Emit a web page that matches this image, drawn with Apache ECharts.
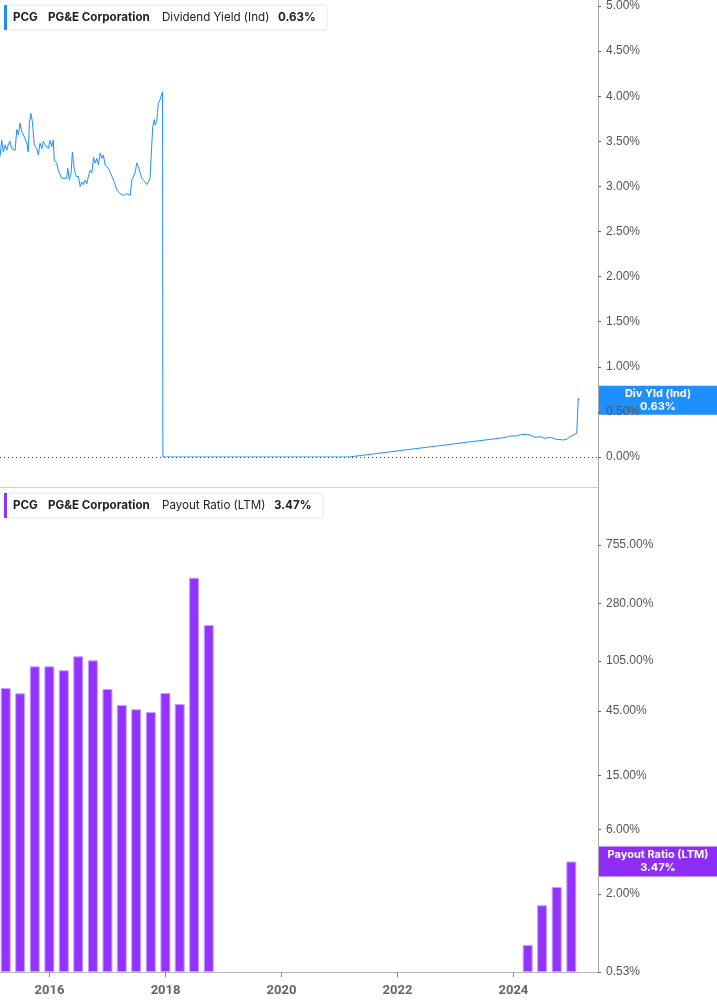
<!DOCTYPE html>
<html><head><meta charset="utf-8">
<script src="https://cdn.jsdelivr.net/npm/echarts@6/dist/echarts.min.js"></script>
<style>html,body{margin:0;padding:0;background:#fff}#c{width:717px;height:1005px}</style>
</head><body><div id="c"></div>
<script>
// ---- Dividend Yield (Ind), % ----
const yieldDates = [
'2015-02-23','2015-03-06','2015-03-16','2015-03-27','2015-04-07','2015-04-17','2015-04-27','2015-05-07','2015-05-19','2015-05-29',
'2015-06-09','2015-06-19','2015-06-29','2015-07-10','2015-07-20','2015-07-31','2015-08-11','2015-08-20','2015-08-27','2015-09-05',
'2015-09-15','2015-09-27','2015-10-12','2015-10-23','2015-11-02','2015-11-13','2015-11-23','2015-12-04','2015-12-15','2015-12-25',
'2016-01-04','2016-01-15','2016-01-25','2016-01-31','2016-02-15','2016-02-25','2016-03-07','2016-03-17','2016-03-28','2016-04-18',
'2016-04-25','2016-05-05','2016-05-16','2016-05-24','2016-06-04','2016-06-17','2016-07-01','2016-07-12','2016-07-23','2016-08-02',
'2016-08-12','2016-08-23','2016-09-02','2016-09-13','2016-09-24','2016-10-04','2016-10-15','2016-10-25','2016-11-04','2016-11-15',
'2016-11-26','2016-12-05','2016-12-16','2016-12-27','2017-01-06','2017-01-17','2017-01-28','2017-02-07','2017-02-17','2017-02-28',
'2017-03-10','2017-03-21','2017-04-01','2017-04-11','2017-04-21','2017-05-02','2017-05-12','2017-05-23','2017-06-02','2017-06-13',
'2017-06-23','2017-07-04','2017-07-14','2017-07-25','2017-08-04','2017-08-14','2017-08-25','2017-09-05','2017-09-15','2017-09-25',
'2017-10-06','2017-10-12','2017-10-22','2017-10-27','2017-11-06','2017-11-10','2017-11-16','2017-11-22','2017-11-27','2017-12-07',
'2017-12-13','2017-12-15','2018-06-29','2019-06-28','2020-06-30','2021-03-01',
'2023-11-18','2023-12-09','2024-01-21','2024-02-22','2024-04-15','2024-05-16','2024-06-17','2024-07-18','2024-08-19','2024-09-30',
'2024-11-10','2024-12-02','2024-12-22','2025-01-12','2025-02-03','2025-02-13','2025-02-19'
];
const yieldValues = [
3.33,3.51,3.38,3.46,3.40,3.47,3.50,3.42,3.44,3.40,
3.63,3.57,3.70,3.61,3.59,3.53,3.48,3.38,3.70,3.81,
3.72,3.46,3.42,3.35,3.48,3.42,3.50,3.46,3.48,3.42,
3.51,3.44,3.51,3.29,3.26,3.18,3.20,3.09,3.07,3.09,
3.20,3.07,3.15,3.38,3.20,3.11,3.11,3.00,3.05,3.02,
3.07,3.03,3.11,3.18,3.15,3.32,3.26,3.31,3.24,3.37,
3.31,3.35,3.24,3.22,3.20,3.18,3.11,3.07,3.02,2.96,
2.98,2.92,2.92,2.90,2.90,2.92,2.94,2.90,3.07,3.09,
3.15,3.26,3.22,3.15,3.09,3.07,3.05,3.02,3.05,3.09,
3.07,3.66,3.74,3.68,3.72,3.79,3.92,3.90,3.96,3.98,
4.05,0,0,0,0,0,
0.218,0.233,0.233,0.251,0.245,0.218,0.225,0.207,0.218,0.196,
0.189,0.196,0.225,0.244,0.262,0.65,0.63
];
// ---- Payout Ratio (LTM), % ----
const payoutDates = [
'2015-03-31','2015-06-30','2015-09-30','2015-12-31','2016-03-31','2016-06-30','2016-09-30','2016-12-31',
'2017-03-31','2017-06-30','2017-09-30','2017-12-31','2018-03-31','2018-06-30','2018-09-30',
'2024-03-31','2024-06-30','2024-09-30','2024-12-31'
];
const payoutValues = [
66.3,60.6,95.9,95.9,89.7,113.7,106.2,65.3,
49.7,46.2,44.1,60.9,50.5,432.9,193.6,
0.84,1.65,2.25,3.47
];
const payoutTicks = [0.53, 2, 6, 15, 45, 105, 280, 755];
const yearTicks = ['2016-01-01','2018-01-01','2020-01-01','2022-01-01','2024-01-01'];
const lastYield = 0.63, lastPayout = 3.47;

const BLUE = '#1e8fff', PURPLE = '#9333ff';
const chart = echarts.init(document.getElementById('c'), null, {renderer:'canvas'});

// visible date range of both panels
const tMin = echarts.number.parseDate('2015-02-23').getTime();
const tMax = echarts.number.parseDate('2025-06-17').getTime();
// ECharts widens a time axis carrying bars by the bar width; pre-shrink so the final range matches the line panel
const plotW = 598, barW = 10;
const shrink = (tMax - tMin) * (barW / plotW) / 2;

const yLabel = {color:'#555', fontSize:12, fontFamily:'Liberation Sans, Arial, sans-serif', margin:8,
  formatter: v => Number(v).toFixed(2) + '%'};

chart.setOption({
  animation:false,
  grid:[
    {left:0, right:119, top:6, height:451},
    {left:0, right:119, top:545, height:427}
  ],
  xAxis:[
    {type:'time', gridIndex:0, min:tMin, max:tMax, show:false},
    {type:'time', gridIndex:1, min:tMin + shrink, max:tMax - shrink,
     axisLine:{show:true, lineStyle:{color:'#b5b5b5', width:1}},
     axisTick:{show:true, length:5, lineStyle:{color:'#888'}, customValues: yearTicks},
     splitLine:{show:false},
     axisLabel:{customValues: yearTicks, formatter:'{yyyy}', color:'#666', fontWeight:'bold',
       fontSize:13, fontFamily:'Roboto, sans-serif', margin:12}}
  ],
  yAxis:[
    {type:'value', gridIndex:0, position:'right', min:0, max:5, interval:0.5,
     axisLine:{show:false}, splitLine:{show:false},
     axisTick:{show:true, length:3, lineStyle:{color:'#666'}},
     axisLabel: yLabel},
    {type:'log', gridIndex:1, position:'right', min:0.53, max:755, logBase:10, startValue:0.53,
     axisLine:{show:false}, splitLine:{show:false},
     axisTick:{show:true, length:3, lineStyle:{color:'#666'}, customValues: payoutTicks},
     axisLabel: Object.assign({}, yLabel, {customValues: payoutTicks})}
  ],
  series:[
    {type:'line', xAxisIndex:0, yAxisIndex:0, showSymbol:false, symbol:'none',
     lineStyle:{color:BLUE, width:1}, itemStyle:{color:BLUE},
     data: yieldDates.map((d,i)=>[d, yieldValues[i]]),
     markLine:{silent:true, symbol:'none', label:{show:false},
       lineStyle:{color:'#444', type:[1,3], width:1}, data:[{yAxis:0}]}},
    {type:'bar', xAxisIndex:1, yAxisIndex:1, barWidth:barW,
     itemStyle:{color:PURPLE, borderColor:'#c8a2ff', borderWidth:1},
     data: payoutDates.map((d,i)=>[d, payoutValues[i]])}
  ]
});

function legendBox(y, color, parts, xs, w){
  const children = [
    {type:'rect', shape:{x:4, y:y, width:w, height:25, r:3}, style:{fill:'#fff', stroke:'#e6e6e6', lineWidth:1}},
    {type:'rect', shape:{x:4, y:y, width:3, height:25}, style:{fill:color}}
  ];
  parts.forEach((p,i)=>children.push({type:'text', x:xs[i], y:y+12.5,
    style:{text:p.t, fill:'#222', font:(p.b?'bold ':'')+'11.6px Inter, sans-serif', textVerticalAlign:'middle'}}));
  return {type:'group', children};
}
const yY = chart.convertToPixel({yAxisIndex:0}, lastYield);
const yP = chart.convertToPixel({yAxisIndex:1}, lastPayout);
chart.setOption({graphic:[
  {type:'line', shape:{x1:598.5, y1:0, x2:598.5, y2:973}, style:{stroke:'#a8a8a8', lineWidth:1}},
  {type:'line', shape:{x1:0, y1:487.5, x2:598, y2:487.5}, style:{stroke:'#d0d0d0', lineWidth:1}},
  legendBox(5, BLUE, [{t:'PCG',b:1},{t:'PG&E Corporation',b:1},{t:'Dividend Yield (Ind)',b:0},{t:'0.63%',b:1}], [13,48,162,278], 323),
  legendBox(493, PURPLE, [{t:'PCG',b:1},{t:'PG&E Corporation',b:1},{t:'Payout Ratio (LTM)',b:0},{t:'3.47%',b:1}], [13,48,162,274], 319),
  {type:'group', children:[
    {type:'rect', shape:{x:599, y:yY-14.5, width:118, height:29}, style:{fill:BLUE}},
    {type:'text', x:658, y:yY, style:{text:'Div Yld (Ind)\n0.63%', fill:'#fff', font:'bold 11px Inter, sans-serif',
      textAlign:'center', textVerticalAlign:'middle', lineHeight:13}}
  ]},
  {type:'group', children:[
    {type:'rect', shape:{x:599, y:yP-15, width:118, height:30}, style:{fill:'#8f2cf6'}},
    {type:'text', x:658, y:yP, style:{text:'Payout Ratio (LTM)\n3.47%', fill:'#fff', font:'bold 11px Inter, sans-serif',
      textAlign:'center', textVerticalAlign:'middle', lineHeight:13}}
  ]}
]});
</script></body></html>
